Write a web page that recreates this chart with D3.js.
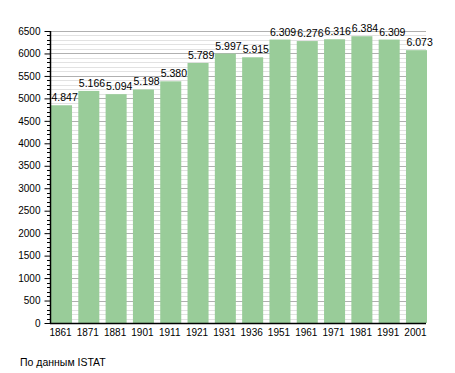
<!DOCTYPE html>
<html>
<head>
<meta charset="utf-8">
<script src="https://cdn.jsdelivr.net/npm/d3@7"></script>
<style>
body { margin: 0; background: #fff; }
text { font-family: "Liberation Sans", Arial, sans-serif; font-size: 10px; fill: #000; }
</style>
</head>
<body>
<script>
// chart data
var years = ["1861","1871","1881","1901","1911","1921","1931","1936","1951","1961","1971","1981","1991","2001"];
var population = [4847, 5166, 5094, 5198, 5380, 5789, 5997, 5915, 6309, 6276, 6316, 6384, 6309, 6073];
var yTicks = [0, 500, 1000, 1500, 2000, 2500, 3000, 3500, 4000, 4500, 5000, 5500, 6000, 6500];

var w = 455, h = 373;
var plotLeft = 50, plotRight = 426, plotTop = 31, plotBottom = 323;

var svg = d3.select("body")
    .append("svg")
    .attr("width", w)
    .attr("height", h);

var x = d3.scaleBand()
    .domain(years)
    .range([plotLeft + 1, plotRight + 1])
    .paddingInner(0.23)
    .paddingOuter(0);

var y = d3.scaleLinear()
    .domain([0, 6500])
    .range([plotBottom, plotTop]);

// minor grid every 100
var minor = d3.range(100, 6500, 100).filter(function(d){ return d % 500 != 0; });
svg.selectAll(".minor")
    .data(minor)
    .enter()
    .append("line")
    .attr("class", "minor")
    .attr("x1", plotLeft).attr("x2", plotRight)
    .attr("y1", function(d){ return Math.round(y(d)) + 0.5; })
    .attr("y2", function(d){ return Math.round(y(d)) + 0.5; })
    .style("stroke", "#e2e2e2");

// major grid every 500
svg.selectAll(".major")
    .data(yTicks.slice(1))
    .enter()
    .append("line")
    .attr("class", "major")
    .attr("x1", plotLeft).attr("x2", plotRight)
    .attr("y1", function(d){ return Math.round(y(d)) + 0.5; })
    .attr("y2", function(d){ return Math.round(y(d)) + 0.5; })
    .style("stroke", "#b0b0b0");

// bars
svg.selectAll(".bar")
    .data(population)
    .enter()
    .append("rect")
    .attr("class", "bar")
    .attr("x", function(d, i){ return x(years[i]); })
    .attr("width", x.bandwidth())
    .attr("y", function(d){ return y(d); })
    .attr("height", function(d){ return plotBottom - y(d); })
    .style("fill", "#99cc99");

// value labels (left aligned on the bar)
var fmt = function(d){ return d3.format(",")(d).replace(",", "."); };
svg.selectAll(".val")
    .data(population)
    .enter()
    .append("text")
    .attr("class", "val")
    .attr("x", function(d, i){ return x(years[i]) + 0.5; })
    .attr("y", function(d){ return y(d) - 4; })
    .style("font-size", "10.5px")
    .text(fmt);

// y axis
var yAxis = d3.axisLeft(y)
    .tickValues(yTicks)
    .tickFormat(d3.format("d"))
    .tickSize(6)
    .tickPadding(4);
var gy = svg.append("g")
    .attr("transform", "translate(" + (plotLeft + 0.5) + ",0)")
    .call(yAxis);
gy.select(".domain").remove();
gy.selectAll("line").style("stroke", "#000");
gy.selectAll("text")
    .style("font-size", "10px")
    .style("font-family", "Liberation Sans, Arial, sans-serif")
    .style("fill", "#000");

// minor ticks
svg.selectAll(".mtick")
    .data(minor)
    .enter()
    .append("line")
    .attr("class", "mtick")
    .attr("x1", plotLeft - 3).attr("x2", plotLeft)
    .attr("y1", function(d){ return Math.round(y(d)) + 0.5; })
    .attr("y2", function(d){ return Math.round(y(d)) + 0.5; })
    .style("stroke", "#000");

svg.append("line")
    .attr("x1", plotLeft + 0.5).attr("x2", plotLeft + 0.5)
    .attr("y1", plotTop).attr("y2", plotBottom + 1)
    .style("stroke", "#000")
    .style("stroke-width", 1.5);

// x axis
svg.append("line")
    .attr("x1", plotLeft).attr("x2", plotRight)
    .attr("y1", plotBottom + 0.5).attr("y2", plotBottom + 0.5)
    .style("stroke", "#000")
    .style("stroke-width", 1.5);

svg.selectAll(".xlab")
    .data(years)
    .enter()
    .append("text")
    .attr("class", "xlab")
    .attr("x", function(d){ return x(d) + x.bandwidth() / 2 - 1; })
    .attr("y", plotBottom + 13)
    .attr("text-anchor", "middle")
    .text(function(d){ return d; });

// source note
svg.append("text")
    .attr("x", 20)
    .attr("y", 366)
    .style("font-size", "10.5px")
    .text("По данным  ISTAT");
</script>
</body>
</html>
